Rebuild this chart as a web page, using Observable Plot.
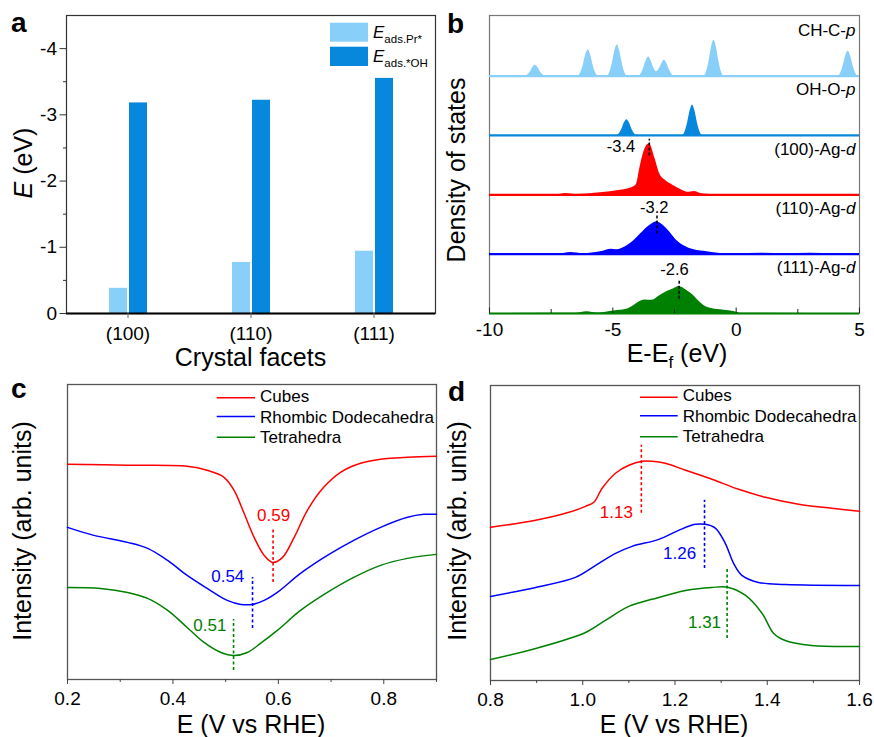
<!DOCTYPE html>
<html><head><meta charset="utf-8">
<script src="https://cdn.jsdelivr.net/npm/d3@7"></script>
<script src="https://cdn.jsdelivr.net/npm/@observablehq/plot@0.6"></script>
<style>
body{margin:0;background:#fff;}
#fig{position:relative;width:874px;height:737px;overflow:hidden;background:#fff;}
</style></head><body><div id="fig"></div>
<script>
// ---------- Panel a data ----------
const facets = ["(100)", "(110)", "(111)"];
const eadsPr = [-0.38, -0.77, -0.94];
const eadsOH = [-3.18, -3.22, -3.55];
const aMajorTicks = [0, -1, -2, -3, -4];
const aMinorTicks = [-0.5, -1.5, -2.5, -3.5];

// ---------- Panel b data (E-Ef in eV, DOS in arb. units) ----------
const dosNames = ["CH-C-p", "OH-O-p", "(100)-Ag-d", "(110)-Ag-d", "(111)-Ag-d"];
const chcP = [[-10,0],
  [-8.54,0],[-8.44,1.2],[-8.34,4.4],[-8.24,8.6],[-8.14,10.7],[-8.04,8.6],[-7.94,4.4],[-7.84,1.2],[-7.74,0],
  [-6.4,0],[-6.3,3.2],[-6.2,10.8],[-6.1,21],[-6.0,26.3],[-5.9,21],[-5.8,10.8],[-5.7,3.2],[-5.6,0],
  [-5.22,0],[-5.12,3.8],[-5.02,12.8],[-4.92,25],[-4.82,31.3],[-4.72,25],[-4.62,12.8],[-4.52,3.8],[-4.42,0],
  [-3.95,0],[-3.85,2.3],[-3.75,7.8],[-3.65,15.2],[-3.55,19],[-3.45,15.2],[-3.35,8.5],[-3.23,4.2],
  [-3.11,7.5],[-3.01,12.6],[-2.91,15.7],[-2.81,12.6],[-2.71,6.4],[-2.61,1.9],[-2.51,0],
  [-1.3,0],[-1.2,4.3],[-1.1,14.6],[-1.0,28.6],[-0.9,35.7],[-0.8,28.6],[-0.7,14.6],[-0.6,4.3],[-0.5,0],
  [4.14,0],[4.24,3],[4.34,10.3],[4.44,20],[4.54,25],[4.64,20],[4.74,10.3],[4.84,3],[4.94,0],[5,0]];
const ohoP = [[-10,0],
  [-4.83,0],[-4.73,1.9],[-4.63,6.4],[-4.53,12.6],[-4.43,15.7],[-4.33,12.6],[-4.23,6.4],[-4.13,1.9],[-4.03,0],
  [-2.17,0],[-2.07,3.7],[-1.97,12.5],[-1.87,24.4],[-1.77,30.5],[-1.67,24.4],[-1.57,12.5],[-1.47,3.7],[-1.37,0],
  [5,0]];
const ag100d = [[-10,0],[-7.3,0],[-6.9,1.3],[-6.5,0.3],[-5.5,2],[-4.7,4.5],[-4.3,6.5],[-4.05,10],
  [-3.9,27],[-3.73,43.7],[-3.52,51],[-3.3,37],[-3.1,21],[-2.85,14],[-2.6,10],[-2.25,5.3],
  [-1.95,2.5],[-1.7,3.3],[-1.4,1],[-1.0,0.2],[5,0]];
const ag110d = [[-10,0],[-7.2,0.3],[-6.7,1.7],[-6.2,0.5],[-5.5,2.3],[-5.05,5],[-4.85,4.3],[-4.42,8.3],
  [-4.15,13.3],[-3.88,20],[-3.61,26.7],[-3.4,30.3],[-3.22,32.3],[-3.0,29.5],[-2.75,23.5],[-2.46,15],
  [-2.12,8.3],[-1.71,4.3],[-1.18,2.3],[-0.64,0.7],[0,0.3],[1,0.8],[2,0.3],[3,0.8],[4,0.3],[5,0]];
const ag111d = [[-10,0],[-6.5,0.2],[-6.05,1.8],[-5.6,0.5],[-4.95,2.5],[-4.4,4.5],[-4.16,7.7],[-3.9,12],
  [-3.7,13.5],[-3.4,13.2],[-3.1,17.7],[-2.8,22],[-2.55,24.5],[-2.32,27],[-2.0,23],[-1.73,18],
  [-1.5,12],[-1.3,7.7],[-1.0,5],[-0.5,3.3],[-0.1,2],[0.2,0.3],[5,0]];
const dosStackIndex = [4, 3, 2, 1, 0];
const bPeakSeries = [2, 3, 4];
const bPeakX = [-3.52, -3.21, -2.31];
const bPeakH1 = [38.7, 20, 14.3];
const bPeakH2 = [55.4, 38.3, 34.3];
const bPeakText = ["-3.4", "-3.2", "-2.6"];
const bLabelX = [-4.67, -3.32, -2.5];
const bLabelH = [47.7, 46, 43.3];
const bMajorTicks = [-10, -5, 0, 5];
const bMinorTicks = [-7.5, -2.5, 2.5];

// ---------- Panel c data (E vs RHE, intensity arb.) ----------
const seriesNames = ["Cubes", "Rhombic Dodecahedra", "Tetrahedra"];
const cubesC = [[0.2,215],[0.314,214],[0.427,213],[0.465,209],[0.497,202],[0.516,189],[0.535,166],[0.554,142],[0.573,124],[0.589,117],[0.608,122],[0.630,142],[0.655,169],[0.686,192],[0.718,207],[0.756,216],[0.794,220],[0.845,222],[0.9,223]];
const rhombC = [[0.2,152],[0.25,144],[0.314,137],[0.352,131],[0.39,119],[0.427,104],[0.465,91],[0.503,79],[0.529,75],[0.551,75],[0.573,79],[0.598,87],[0.642,106],[0.693,124],[0.743,139],[0.794,152],[0.845,162],[0.876,165],[0.9,165]];
const tetraC = [[0.2,92],[0.263,91],[0.314,87],[0.352,81],[0.39,69],[0.427,52],[0.459,37],[0.491,27],[0.516,24],[0.541,27],[0.566,36],[0.598,49],[0.642,69],[0.693,87],[0.743,102],[0.794,114],[0.845,121],[0.9,125]];
const cPeakX = [0.59, 0.551, 0.515];
const cPeakY1 = [97, 51, 9];
const cPeakY2 = [150, 102, 60];
const cPeakText = ["0.59", "0.54", "0.51"];
const cLabelX = [0.591, 0.504, 0.470];
const cLabelY = [164, 103, 54];
const cMajorTicks = [0.2, 0.4, 0.6, 0.8];
const cMinorTicks = [0.3, 0.5, 0.7, 0.9];

// ---------- Panel d data ----------
const cubesD = [[0.8,153],[0.898,160],[0.97,168],[1.006,174],[1.024,178],[1.042,192],[1.071,207],[1.1,215],[1.129,219],[1.15,219],[1.179,217],[1.223,210],[1.28,201],[1.338,191],[1.396,183],[1.468,176],[1.54,172],[1.6,169]];
const rhombD = [[0.8,84],[0.898,93],[0.984,103],[1.028,115],[1.071,127],[1.107,134],[1.165,141],[1.208,150],[1.244,156],[1.266,156],[1.288,152],[1.309,137],[1.327,117],[1.345,105],[1.381,98],[1.439,96],[1.6,95]];
const tetraD = [[0.8,21],[0.898,32],[1.006,48],[1.049,60],[1.1,74],[1.165,83],[1.223,90],[1.28,93],[1.316,93],[1.353,85],[1.389,67],[1.414,47],[1.439,40],[1.496,35],[1.6,34]];
const dPeakX = [1.127, 1.264, 1.313];
const dPeakY1 = [167, 112, 42];
const dPeakY2 = [235, 180, 112];
const dPeakText = ["1.13", "1.26", "1.31"];
const dLabelX = [1.073, 1.210, 1.264];
const dLabelY = [168, 127, 57.5];
const dMajorTicks = [0.8, 1.0, 1.2, 1.4, 1.6];
const dMinorTicks = [0.9, 1.1, 1.3, 1.5];

// ================= drawing =================
const FONT = '"Liberation Sans", Arial, Helvetica, sans-serif';
const fig = document.getElementById("fig");
function place(el, left, top) {
  el.style.position = "absolute";
  el.style.left = left + "px";
  el.style.top = top + "px";
  fig.appendChild(el);
}
const baseStyle = {fontFamily: FONT, fontSize: "19px", color: "#000", background: "transparent", overflow: "visible"};
const LIGHT = "#88cffa", DARK = "#0788dc";
const RED = "#ff0000", BLUE = "#0000ff", GREEN = "#008000";

// ----- Panel a -----
const barRows = facets.map((f, i) => ({facet: f, pr: eadsPr[i], oh: eadsOH[i]}));
const pa = Plot.plot({
  width: 440, height: 360, marginLeft: 66, marginRight: 5, marginTop: 15, marginBottom: 47,
  style: baseStyle,
  x: {type: "band", domain: facets, padding: 0},
  y: {domain: [0, -4.5]},
  marks: [
    Plot.barY(barRows, {x: "facet", y: "pr", fill: LIGHT, insetLeft: 43, insetRight: 62}),
    Plot.barY(barRows, {x: "facet", y: "oh", fill: DARK, insetLeft: 63, insetRight: 42}),
    Plot.frame({stroke: "#333", strokeWidth: 1.2}),
    Plot.ruleY([0], {stroke: "#000", strokeWidth: 2.2}),
    Plot.axisY({ticks: aMajorTicks, tickSize: 6.5, tickPadding: 3, tickFormat: d => String(d), label: null, stroke: "#333", fontSize: 19}),
    Plot.axisY({ticks: aMinorTicks, tickSize: 3, tickFormat: () => "", label: null, stroke: "#333"}),
    Plot.axisX({tickSize: 5, tickPadding: 8, label: null, stroke: "#666", fontSize: 19})
  ]
});
place(pa, 0, 0);

// ----- Panel b -----
const STEP = 59.3;
const dosData = [chcP, ohoP, ag100d, ag110d, ag111d];
const dosColors = [LIGHT, DARK, RED, BLUE, GREEN];
const bMarks = [];
dosData.forEach((pts, i) => {
  const off = dosStackIndex[i] * STEP;
  bMarks.push(Plot.areaY(pts, {x: d => d[0], y1: () => off, y2: d => off + d[1], fill: dosColors[i], curve: "monotone-x"}));
  bMarks.push(Plot.ruleY([off], {stroke: dosColors[i], strokeWidth: 2.2}));
  bMarks.push(Plot.text([{t: dosNames[i], y: off + 45.5}], {text: "t", y: "y", frameAnchor: "right", dx: -4, textAnchor: "end", fontSize: 17, fill: "#000"}));
});
bPeakX.forEach((x, j) => {
  const off = dosStackIndex[bPeakSeries[j]] * STEP;
  bMarks.push(Plot.ruleX([x], {x: d => d, y1: () => off + bPeakH1[j], y2: () => off + bPeakH2[j], stroke: "#000", strokeWidth: 1.5, strokeDasharray: "3,2"}));
  bMarks.push(Plot.text([bPeakText[j]], {x: () => bLabelX[j], y: () => off + bLabelH[j], text: d => d, fontSize: 16.5, fill: "#000"}));
});
const pb = Plot.plot({
  width: 434, height: 360, marginLeft: 49, marginRight: 15, marginTop: 15, marginBottom: 47,
  style: baseStyle,
  x: {domain: [-10, 5]},
  y: {domain: [0, 297.7], axis: null},
  marks: [
    Plot.frame({stroke: "#777", strokeWidth: 1.2}),
    ...bMarks,
    Plot.axisX({ticks: bMajorTicks, tickSize: -5.5, tickPadding: 14.5, tickFormat: d => String(d), label: null, stroke: "#222", fontSize: 19}),
    Plot.axisX({ticks: bMinorTicks, tickSize: -4, tickFormat: () => "", label: null, stroke: "#222"})
  ]
});
d3.select(pb).selectAll("text").each(function () {
  const t = this.textContent;
  const m = t.match(/^(.*-)([pd])$/);
  if (m) {
    this.textContent = "";
    d3.select(this).append("tspan").text(m[1]);
    d3.select(this).append("tspan").attr("font-style", "italic").text(m[2]);
  }
});
place(pb, 440, 0);

// ----- Panels c, d -----
function linePanel(series, peakX, y1s, y2s, texts, lx, ly, xdom, major, minor, ml, mr, mt, mb, w, h) {
  const cols = [RED, BLUE, GREEN];
  const marks = [Plot.frame({stroke: "#555", strokeWidth: 1.3})];
  series.forEach((pts, i) => {
    marks.push(Plot.line(pts, {x: d => d[0], y: d => d[1], stroke: cols[i], strokeWidth: 1.5, curve: "catmull-rom"}));
  });
  peakX.forEach((x, j) => {
    marks.push(Plot.ruleX([x], {x: d => d, y1: () => y1s[j], y2: () => y2s[j], stroke: cols[j], strokeWidth: 1.6, strokeDasharray: "3,2.5"}));
    marks.push(Plot.text([texts[j]], {x: () => lx[j], y: () => ly[j], text: d => d, fontSize: 17, fill: cols[j]}));
  });
  marks.push(Plot.axisX({ticks: major, tickSize: 5, tickPadding: 7, tickFormat: d3.format(".1f"), label: null, stroke: "#444", fontSize: 19}));
  marks.push(Plot.axisX({ticks: minor, tickSize: 3, tickFormat: () => "", label: null, stroke: "#444"}));
  return Plot.plot({
    width: w, height: h, marginLeft: ml, marginRight: mr, marginTop: mt, marginBottom: mb,
    style: baseStyle,
    x: {domain: xdom},
    y: {domain: [0, 294.7], axis: null},
    marks
  });
}
const pc = linePanel([cubesC, rhombC, tetraC], cPeakX, cPeakY1, cPeakY2, cPeakText, cLabelX, cLabelY,
  [0.2, 0.9], cMajorTicks, cMinorTicks, 67, 4, 24, 58, 440, 377);
place(pc, 0, 360);
const pd = linePanel([cubesD, rhombD, tetraD], dPeakX, dPeakY1, dPeakY2, dPeakText, dLabelX, dLabelY,
  [0.8, 1.6], dMajorTicks, dMinorTicks, 50, 15, 25, 57, 434, 377);
place(pd, 440, 360);

// ----- Overlay: panel letters, axis titles, legends -----
function legendLines(x1, x2, tx, rows, bases) {
  const cols = [RED, BLUE, GREEN];
  return seriesNames.map((n, i) =>
    `<line x1="${x1}" x2="${x2}" y1="${rows[i]}" y2="${rows[i]}" stroke="${cols[i]}" stroke-width="1.6"/>` +
    `<text x="${tx}" y="${bases[i]}" font-size="17">${n}</text>`).join("");
}
const ov = document.createElement("div");
ov.innerHTML = `<svg width="874" height="737" xmlns="http://www.w3.org/2000/svg" style="font-family:${FONT.replace(/"/g, "'")}" fill="#000">
  <text x="11" y="31.7" font-size="28" font-weight="bold">a</text>
  <text x="447" y="32.7" font-size="28" font-weight="bold">b</text>
  <text x="11" y="398.3" font-size="28" font-weight="bold">c</text>
  <text x="448" y="400.7" font-size="28" font-weight="bold">d</text>

  <text transform="translate(32,163) rotate(-90)" text-anchor="middle" font-size="25"><tspan font-style="italic">E</tspan> (eV)</text>
  <text x="250.5" y="366" text-anchor="middle" font-size="25">Crystal facets</text>
  <text transform="translate(465,170) rotate(-90)" text-anchor="middle" font-size="25">Density of states</text>
  <text x="677" y="361.5" text-anchor="middle" font-size="25">E-E<tspan font-size="17" dy="6">f</tspan><tspan dy="-6"> (eV)</tspan></text>
  <text transform="translate(31,531) rotate(-90)" text-anchor="middle" font-size="25">Intensity (arb. units)</text>
  <text x="251" y="732.5" text-anchor="middle" font-size="25">E (V vs RHE)</text>
  <text transform="translate(466,531) rotate(-90)" text-anchor="middle" font-size="25">Intensity (arb. units)</text>
  <text x="674" y="732.5" text-anchor="middle" font-size="25">E (V vs RHE)</text>

  <rect x="330" y="22.7" width="38" height="19" fill="${LIGHT}"/>
  <rect x="330" y="46.7" width="38" height="19.3" fill="${DARK}"/>
  <text x="373" y="38.3" font-size="17"><tspan font-style="italic">E</tspan><tspan font-size="11.5" dy="4.4">ads.Pr*</tspan></text>
  <text x="373" y="62.3" font-size="17"><tspan font-style="italic">E</tspan><tspan font-size="11.5" dy="4.4">ads.*OH</tspan></text>

  ${legendLines(216.7, 255, 260, [397.7, 416.5, 437.3], [402, 422.7, 443.3])}
  ${legendLines(640, 677.7, 682.7, [397.3, 415.7, 436.7], [400.7, 421.7, 442.3])}
</svg>`;
const ovSvg = ov.firstElementChild;
place(ovSvg, 0, 0);
ovSvg.style.pointerEvents = "none";
</script>
</body></html>
